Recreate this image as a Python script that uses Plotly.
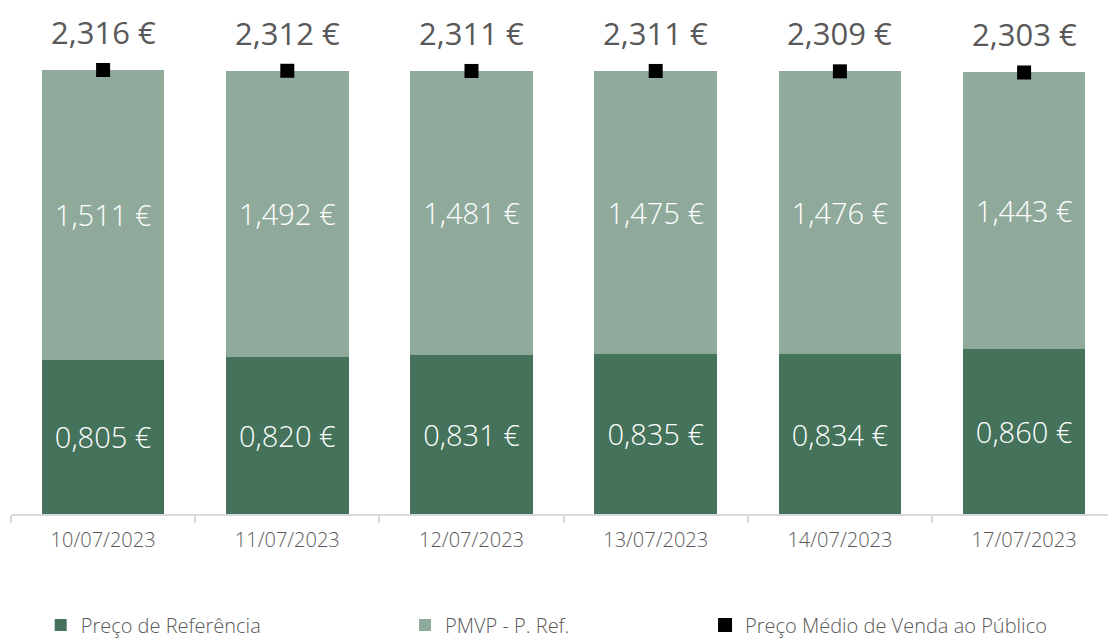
import plotly.graph_objects as go

dates = ["10/07/2023", "11/07/2023", "12/07/2023", "13/07/2023", "14/07/2023", "17/07/2023"]
preco_ref = [0.805, 0.820, 0.831, 0.835, 0.834, 0.860]
pmvp_minus_ref = [1.511, 1.492, 1.481, 1.475, 1.476, 1.443]
pmvp = [2.316, 2.312, 2.311, 2.311, 2.309, 2.303]

DARK = "#44725A"
LIGHT = "#8FAA9B"
GRAY = "#595959"
FONT = "Open Sans"
WEIGHT = 300

def eur(v):
    return f"{v:.3f}".replace(".", ",") + " €"

W, H = 1108, 641
left, right_edge, axis_y = 11, 1108, 514
cat_w = 184.2
n = len(dates)
x_hi = -0.5 + (right_edge - left) / cat_w
px_per_unit = (axis_y - 70) / pmvp[0]
y_top = axis_y / px_per_unit

fig = go.Figure()
fig.add_trace(go.Bar(
    x=dates, y=preco_ref, name="Preço de Referência",
    marker=dict(color=DARK, line=dict(width=0)),
    text=[eur(v) for v in preco_ref], textposition="inside",
    insidetextanchor="middle", textangle=0,
    textfont=dict(color="white", size=29, family=FONT, weight=WEIGHT),
    legend="legend",
))
fig.add_trace(go.Bar(
    x=dates, y=pmvp_minus_ref, name="PMVP - P. Ref.",
    marker=dict(color=LIGHT, line=dict(width=0)),
    text=[eur(v) for v in pmvp_minus_ref], textposition="inside",
    insidetextanchor="middle", textangle=0,
    textfont=dict(color="white", size=29, family=FONT, weight=WEIGHT),
    legend="legend2",
))
fig.add_trace(go.Scatter(
    x=dates, y=pmvp, name="Preço Médio de Venda ao Público",
    mode="markers", marker=dict(symbol="square", size=14, color="black"),
    legend="legend3",
))
for d, v in zip(dates, pmvp):
    fig.add_annotation(x=d, y=v, text=eur(v), showarrow=False,
                       yanchor="middle", yshift=38,
                       font=dict(size=31, color=GRAY, family=FONT, weight=400))

leg_y = (axis_y - 625) / axis_y
def leg(xpx):
    return dict(x=xpx / W, y=leg_y, xref="paper", yref="paper", xanchor="left",
                yanchor="middle", orientation="h", bgcolor="rgba(0,0,0,0)",
                font=dict(size=20, color=GRAY, family=FONT, weight=WEIGHT))

fig.update_layout(
    width=W, height=H, barmode="stack", bargap=0.335,
    plot_bgcolor="white", paper_bgcolor="white",
    margin=dict(l=left, r=0, t=0, b=H - axis_y, pad=0, autoexpand=False),
    font=dict(family=FONT, color=GRAY),
    xaxis=dict(type="category", range=[-0.5, x_hi], tickson="boundaries",
               ticks="outside", ticklen=7, tickwidth=2, tickcolor="#D9D9D9",
               showline=True, linecolor="#D9D9D9", linewidth=2,
               ticklabelstandoff=7, automargin=False,
               showgrid=False, tickfont=dict(size=20, color=GRAY, family=FONT, weight=WEIGHT)),
    yaxis=dict(range=[0, y_top], visible=False, showgrid=False),
    showlegend=True,
    legend=leg(30), legend2=leg(398), legend3=leg(701),
)
fig.write_html("out.html")
